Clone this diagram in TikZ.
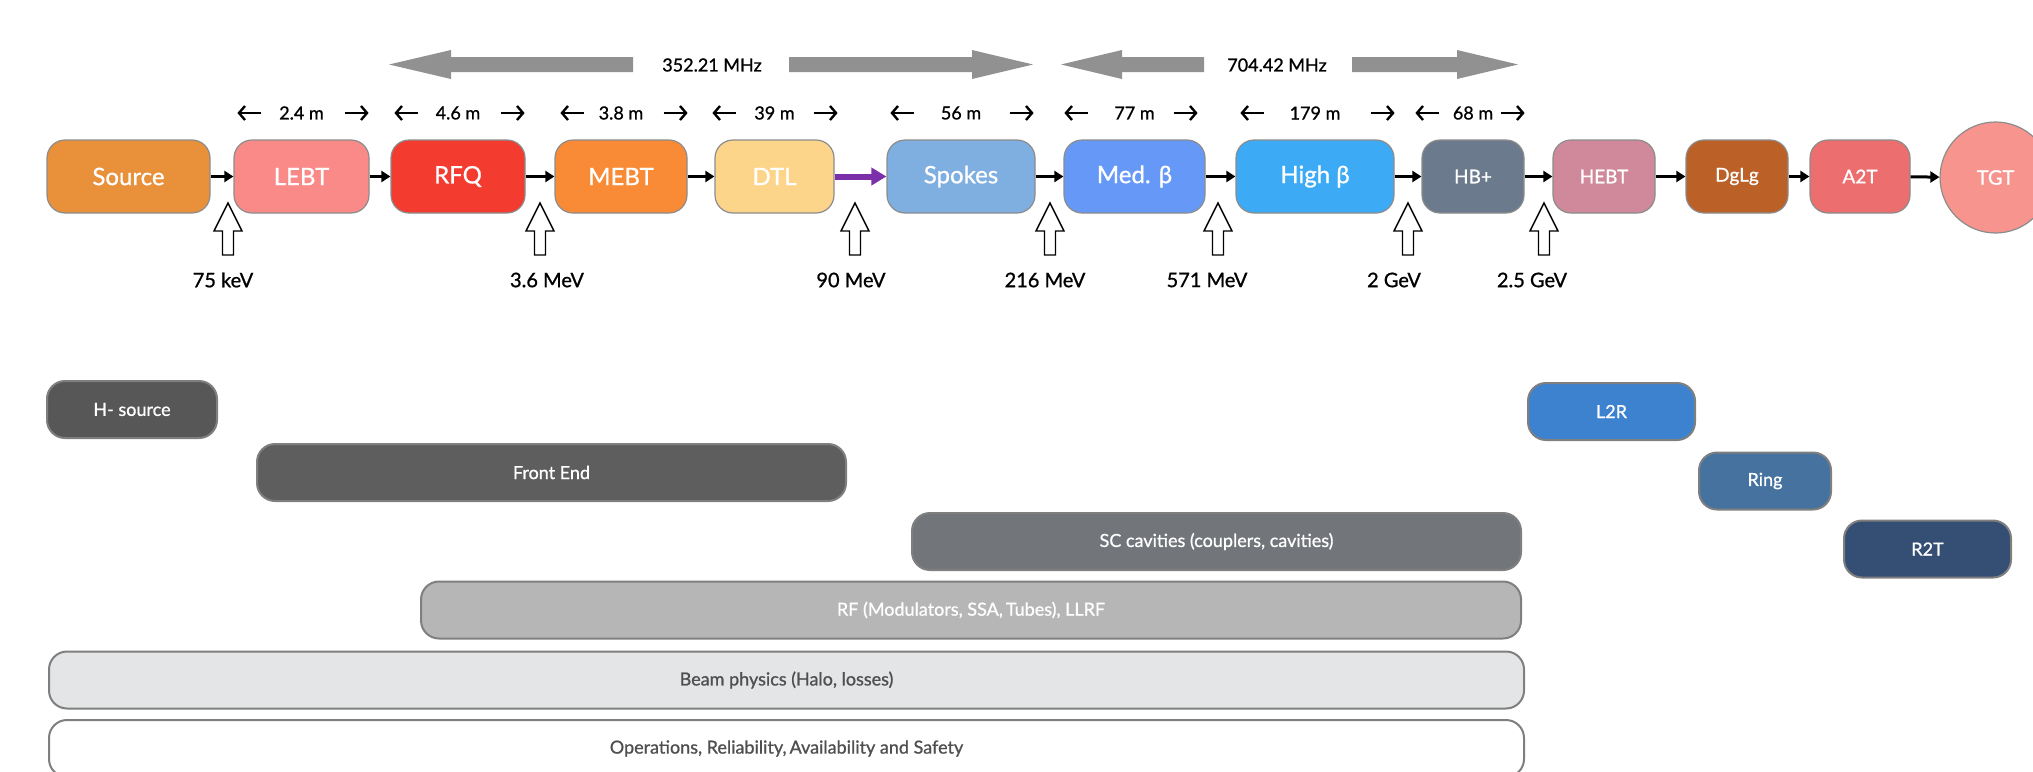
\documentclass[tikz,border=0pt]{standalone}
\usepackage{fontspec}
\setmainfont{Lato}[FakeBold=0.9]
\usetikzlibrary{arrows.meta}
\definecolor{cSource}{HTML}{E8903A}
\definecolor{cLEBT}{HTML}{F98A88}
\definecolor{cRFQ}{HTML}{F33B2F}
\definecolor{cMEBT}{HTML}{F98B36}
\definecolor{cDTL}{HTML}{FCD58A}
\definecolor{cSpokes}{HTML}{7FAEE0}
\definecolor{cMed}{HTML}{6699F7}
\definecolor{cHigh}{HTML}{3DAAF5}
\definecolor{cHBp}{HTML}{6B7B8D}
\definecolor{cHEBT}{HTML}{D0899A}
\definecolor{cDgLg}{HTML}{BB6128}
\definecolor{cA2T}{HTML}{EC6E6F}
\definecolor{cTGT}{HTML}{F8948E}
\definecolor{cHsrc}{HTML}{575757}
\definecolor{cFE}{HTML}{5E5E5E}
\definecolor{cSC}{HTML}{727579}
\definecolor{cRF}{HTML}{B5B6B5}
\definecolor{cBeam}{HTML}{E4E5E6}
\definecolor{cL2R}{HTML}{3D82CE}
\definecolor{cRing}{HTML}{45729F}
\definecolor{cR2T}{HTML}{344F73}
\definecolor{cBig}{HTML}{919191}
\definecolor{cPurple}{HTML}{7B2FA8}
\definecolor{boxline}{HTML}{8C8C8C}
\definecolor{barline}{HTML}{7F7F7F}
\definecolor{bartext}{HTML}{4F4F4F}
% #1 node, #2 text, #3 left tip offset, #4 right tip offset
\newcommand\dimlab[4]{%
  \node[dimtext] (d#1) at ([yshift=63.5pt]#1.center) {#2};
  \draw[dimarrow] ([xshift=#3pt+24pt,yshift=63.5pt]#1.west) -- ([xshift=#3pt,yshift=63.5pt]#1.west);
  \draw[dimarrow] ([xshift=#4pt-24pt,yshift=63.5pt]#1.east) -- ([xshift=#4pt,yshift=63.5pt]#1.east);
}
\begin{document}
\begin{tikzpicture}[x=1pt,y=-1pt,
  stage/.style={draw=boxline, line width=1.2pt, rounded corners=18pt, minimum height=73pt, inner sep=0pt, text=white, font=\fontsize{24}{28}\selectfont},
  smallstage/.style={stage, font=\fontsize{19}{22}\selectfont},
  bar/.style={draw=barline, line width=2pt, rounded corners=18pt, minimum height=57pt, inner sep=0pt, text=white, font=\fontsize{18}{22}\selectfont},
  flow/.style={line width=3pt, -{Triangle[length=9pt,width=11pt]}},
  purpleflow/.style={line width=6pt, cPurple, -{Triangle[length=15pt,width=17pt]}},
  dimtext/.style={font=\fontsize{18}{22}\selectfont, inner sep=0pt},
  dimarrow/.style={line width=2.4pt, -{Straight Barb[length=6pt,width=14pt]}},
  freq/.style={font=\fontsize{18}{22}\selectfont, inner sep=0pt},
  elbl/.style={font=\fontsize{20}{24}\selectfont, inner sep=0pt},
  bigarrow/.style={fill=cBig, draw=none},
  hollowup/.pic={\draw[line width=1.4pt, fill=white] (0,0) -- (14,28) -- (5.5,28) -- (5.5,52) -- (-5.5,52) -- (-5.5,28) -- (-14,28) -- cycle;}
]
\useasboundingbox (0,0) rectangle (2033,771);
\clip (0,0) rectangle (2033,771);

% frequency arrows
\fill[bigarrow] (389,64.5) -- (451,50) -- (451,57) -- (633,57) -- (633,72) -- (451,72) -- (451,79) -- cycle;
\fill[bigarrow] (1033,64.5) -- (972,50) -- (972,57) -- (789,57) -- (789,72) -- (972,72) -- (972,79) -- cycle;
\node[freq] (f1) at (712,65) {352.21 MHz};
\fill[bigarrow] (1061,64.5) -- (1122,50) -- (1122,57) -- (1204,57) -- (1204,72) -- (1122,72) -- (1122,79) -- cycle;
\fill[bigarrow] (1518,64.5) -- (1457,50) -- (1457,57) -- (1352,57) -- (1352,72) -- (1457,72) -- (1457,79) -- cycle;
\node[freq] (f2) at (1277,65) {704.42 MHz};

% stages
\node[stage, fill=cSource, minimum width=163pt] (src) at (128.5,176.5) {Source};
\node[stage, fill=cLEBT, minimum width=135pt] (lebt) at (301.5,176.5) {LEBT};
\node[stage, fill=cRFQ, minimum width=134pt] (rfq) at (458,176.5) {RFQ};
\node[stage, fill=cMEBT, minimum width=132pt] (mebt) at (621,176.5) {MEBT};
\node[stage, fill=cDTL, minimum width=119pt] (dtl) at (774.5,176.5) {DTL};
\node[stage, fill=cSpokes, minimum width=148pt] (spk) at (961,176.5) {Spokes};
\node[stage, fill=cMed, minimum width=141pt] (med) at (1134.5,176.5) {Med. β};
\node[stage, fill=cHigh, minimum width=158pt] (high) at (1315,176.5) {High β};
\node[smallstage, fill=cHBp, minimum width=102pt] (hbp) at (1473,176.5) {HB+};
\node[smallstage, fill=cHEBT, minimum width=102pt] (hebt) at (1604,176.5) {HEBT};
\node[smallstage, fill=cDgLg, minimum width=102pt] (dglg) at (1737,176.5) {DgLg};
\node[smallstage, fill=cA2T, minimum width=100pt] (a2t) at (1860,176.5) {A2T};
\node[draw=boxline, line width=1.2pt, circle, fill=cTGT, minimum size=111pt, inner sep=0pt, text=white, font=\fontsize{20}{24}\selectfont] (tgt) at (1995.5,177.5) {TGT};

% flow connectors
\draw[flow] (src) -- (lebt);
\draw[flow] (lebt) -- (rfq);
\draw[flow] (rfq) -- (mebt);
\draw[flow] (mebt) -- (dtl);
\draw[purpleflow] (dtl) -- (spk);
\draw[flow] (spk) -- (med);
\draw[flow] (med) -- (high);
\draw[flow] (high) -- (hbp);
\draw[flow] (hbp) -- (hebt);
\draw[flow] (hebt) -- (dglg);
\draw[flow] (dglg) -- (a2t);
\draw[flow] (a2t) -- (tgt);

% lengths
\dimlab{lebt}{2.4 m}{4}{-1}
\dimlab{rfq}{4.6 m}{4}{-1}
\dimlab{mebt}{3.8 m}{6}{0}
\dimlab{dtl}{39 m}{-2}{3}
\dimlab{spk}{56 m}{4}{-2}
\dimlab{med}{77 m}{1}{-8}
\dimlab{high}{179 m}{5}{0}
\dimlab{hbp}{68 m}{-6}{0}

% energies
\pic at (228,203) {hollowup};
\pic at (540,203) {hollowup};
\pic at (855,203) {hollowup};
\pic at (1050,203) {hollowup};
\pic at (1218,203) {hollowup};
\pic at (1408,203) {hollowup};
\pic at (1544,203) {hollowup};
\node[elbl] (e1) at (223,280) {75 keV};
\node[elbl] (e2) at (547,280) {3.6 MeV};
\node[elbl] (e3) at (851,280) {90 MeV};
\node[elbl] (e4) at (1045,280) {216 MeV};
\node[elbl] (e5) at (1207,280) {571 MeV};
\node[elbl] (e6) at (1394,280) {2 GeV};
\node[elbl] (e7) at (1532,280) {2.5 GeV};

% work packages
\node[bar, fill=cHsrc, minimum width=170pt] (hsrc) at (132,409.5) {H- source};
\node[bar, fill=cFE, minimum width=589pt] (fe) at (551.5,472.5) {Front End};
\node[bar, fill=cSC, minimum width=609pt] (sc) at (1216.5,541.5) {SC cavities (couplers, cavities)};
\node[bar, fill=cRF, minimum width=1100pt] (rf) at (971,610) {RF (Modulators, SSA,\,Tubes), LLRF};
\node[bar, fill=cBeam, text=bartext, minimum width=1475pt] (beam) at (786.5,680) {Beam physics (Halo, losses)};
\node[bar, fill=white, text=bartext, minimum width=1475pt] (ops) at (786.5,748.5) {Operations, Reliability,\,Availability and Safety};
\node[bar, fill=cL2R, minimum width=167pt] (l2r) at (1611.5,411.5) {L2R};
\node[bar, fill=cRing, minimum width=132pt] (ring) at (1765,481) {Ring};
\node[bar, fill=cR2T, minimum width=167pt] (r2t) at (1927.5,549) {R2T};
\end{tikzpicture}
\end{document}
